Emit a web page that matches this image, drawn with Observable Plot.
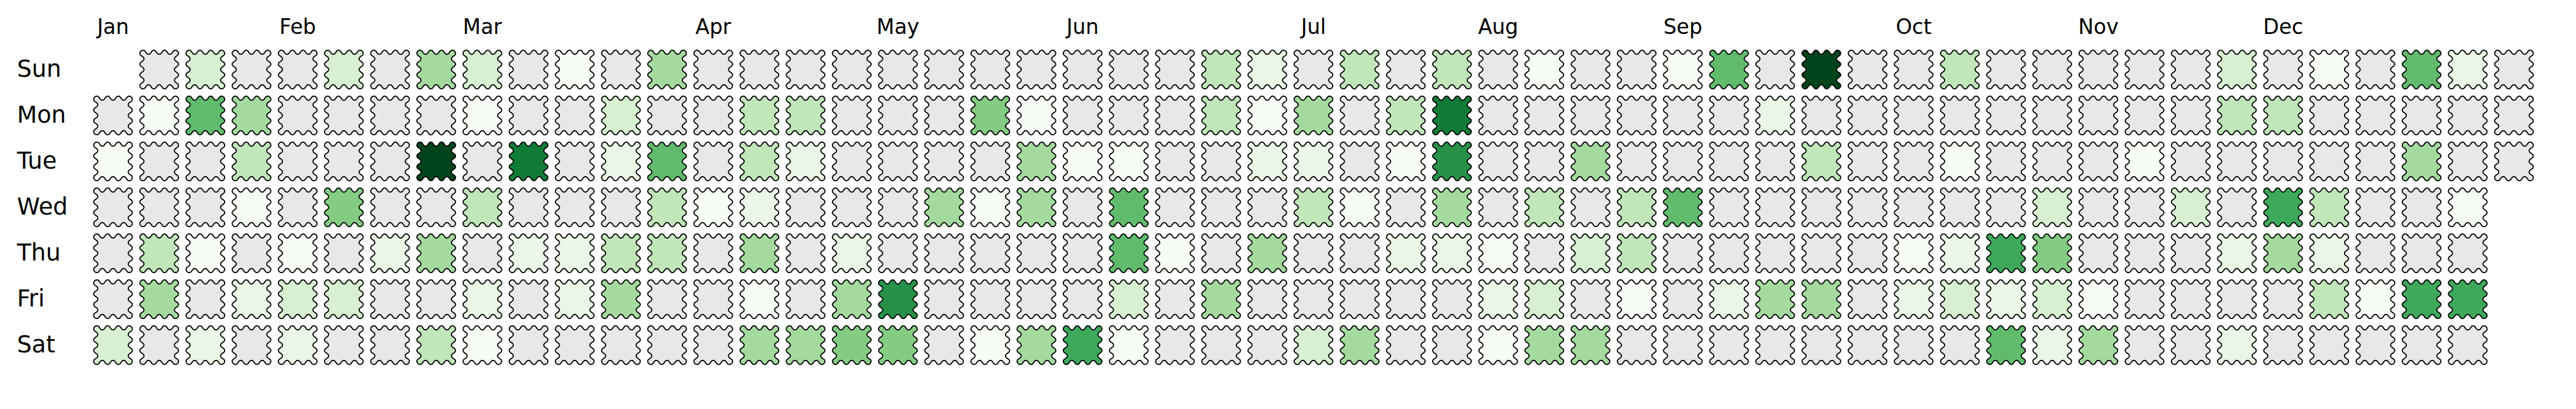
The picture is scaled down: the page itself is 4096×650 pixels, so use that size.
<!DOCTYPE html>
<html><head><meta charset="utf-8">
<script src="https://cdn.jsdelivr.net/npm/d3@7"></script>
<script src="https://cdn.jsdelivr.net/npm/@observablehq/plot@0.6"></script>
<style>html,body{margin:0;padding:0;background:#fff;}</style>
</head><body><div id="chart"></div>
<script>
// ---- data (2024, weeks start on Sunday; null = day outside the year) ----
const days = ["Sun","Mon","Tue","Wed","Thu","Fri","Sat"];
const months = ["Jan","Feb","Mar","Apr","May","Jun","Jul","Aug","Sep","Oct","Nov","Dec"];
const monthWeeks = [0,4,8,13,17,21,26,30,34,39,43,47];
const sun = [null,0,3,0,0,3,0,5,3,0, 1,0,5,0,0,0,0,0,0,0, 0,0,0,0,4,2,0,4,0,4, 0,1,0,0,1,7,0,12,0,0, 4,0,0,0,0,0,3,0,1,0, 7,2,0];
const mon = [0,1,7,5,0,0,0,0,1,0, 0,3,0,0,4,4,0,0,0,6, 1,0,0,0,4,1,5,0,4,10, 0,0,0,0,0,0,2,0,0,0, 0,0,0,0,0,0,4,4,0,0, 0,0,0];
const tue = [1,0,0,4,0,0,0,12,0,10, 0,2,7,0,4,2,0,0,0,0, 5,1,1,0,0,2,2,0,1,9, 0,0,5,0,0,0,0,4,0,0, 1,0,0,0,1,0,0,0,0,0, 5,0,0];
const wed = [0,0,0,1,0,6,0,0,4,0, 0,0,4,1,2,0,0,0,5,1, 5,0,7,0,0,0,4,1,0,5, 0,4,0,4,7,0,0,0,0,0, 0,0,3,0,0,3,0,8,4,0, 0,1,null];
const thu = [0,4,1,0,1,0,2,5,0,2, 2,4,4,0,5,0,2,0,0,0, 0,0,7,1,0,5,0,0,2,2, 1,0,3,4,0,0,0,0,0,1, 2,8,6,0,0,0,2,5,2,0, 0,0,null];
const fri = [0,5,0,2,3,3,0,0,2,0, 2,5,0,0,1,0,5,9,0,0, 0,0,3,0,5,0,0,0,0,0, 2,3,0,1,0,2,5,5,0,2, 3,2,3,1,0,0,0,0,4,1, 8,8,null];
const sat = [3,0,2,0,2,0,0,4,1,0, 0,0,0,0,5,5,6,6,0,1, 5,8,1,0,0,0,3,5,0,0, 1,5,5,0,0,0,0,0,0,0, 0,7,2,5,0,0,2,0,0,0, 0,0,null];
const greens = ["#f7fcf5","#e5f5e0","#c7e9c0","#a1d99b","#74c476","#41ab5d","#238b45","#006d2c","#00441b"];

const rows = [sun, mon, tue, wed, thu, fri, sat];
const cells = [];
rows.forEach((row, d) => row.forEach((v, w) => { if (v !== null) cells.push({week: w, day: days[d], value: v}); }));

// wavy square symbol: each side is 3 sine periods (peaks at the corners), corners are quarter arcs
const waveSymbol = {
  draw(ctx, size) {
    const R = Math.sqrt(size / Math.PI);
    const d = 0.277 * R, D = 3 * d, rc = R - D, a = 0.105 * R, c = 0.05;
    const f = t => { const ph = Math.PI * (t + D) / d; return (Math.cos(ph) - c * Math.cos(3 * ph)) / (1 - c); };
    const pts = [];
    const M = 90, K = 24;
    const arc = (cx, cy, t0, t1) => { for (let j = 1; j < K; j++) { const t = t0 + (t1 - t0) * j / K; pts.push([cx + rc * Math.cos(t), cy + rc * Math.sin(t)]); } };
    for (let j = 0; j <= M; j++) { const x = -D + 2 * D * j / M; pts.push([x, -(R - a) - a * f(x)]); }
    arc(D, -D, -Math.PI / 2, 0);
    for (let j = 0; j <= M; j++) { const y = -D + 2 * D * j / M; pts.push([(R - a) + a * f(y), y]); }
    arc(D, D, 0, Math.PI / 2);
    for (let j = 0; j <= M; j++) { const x = D - 2 * D * j / M; pts.push([x, (R - a) + a * f(x)]); }
    arc(-D, D, Math.PI / 2, Math.PI);
    for (let j = 0; j <= M; j++) { const y = D - 2 * D * j / M; pts.push([-(R - a) - a * f(y), y]); }
    arc(-D, -D, Math.PI, 1.5 * Math.PI);
    pts.forEach(([x, y], i) => i ? ctx.lineTo(x, y) : ctx.moveTo(x, y));
    ctx.closePath();
  }
};

const R = 30.7;
const chart = Plot.plot({
  width: 4096, height: 650,
  marginLeft: 179.2, marginRight: 99.2, marginTop: 108.1, marginBottom: 100.3,
  style: {fontFamily: "'DejaVu Sans', sans-serif", background: "white", color: "black"},
  x: {type: "linear", domain: [0, 52]},
  y: {type: "point", domain: days, padding: 0},
  color: {type: "linear", domain: [1, 12], interpolate: d3.piecewise(d3.interpolateRgb, greens)},
  marks: [
    Plot.dot(cells.filter(d => d.value === 0), {x: "week", y: "day", r: R, symbol: waveSymbol, fill: "#e8e8e8", stroke: "black", strokeWidth: 1.8, strokeLinejoin: "round"}),
    Plot.dot(cells.filter(d => d.value > 0), {x: "week", y: "day", r: R, symbol: waveSymbol, fill: "value", stroke: "black", strokeWidth: 1.8, strokeLinejoin: "round"}),
    Plot.axisX({anchor: "top", ticks: monthWeeks, tickSize: 0, tickPadding: 54.8, tickFormat: d => months[monthWeeks.indexOf(d)], fontSize: 32.8, label: null}),
    Plot.axisY({anchor: "left", tickSize: 0, tickPadding: 152.7, textAnchor: "start", fontSize: 37, label: null})
  ]
});
document.getElementById("chart").append(chart);
</script>
</body></html>
